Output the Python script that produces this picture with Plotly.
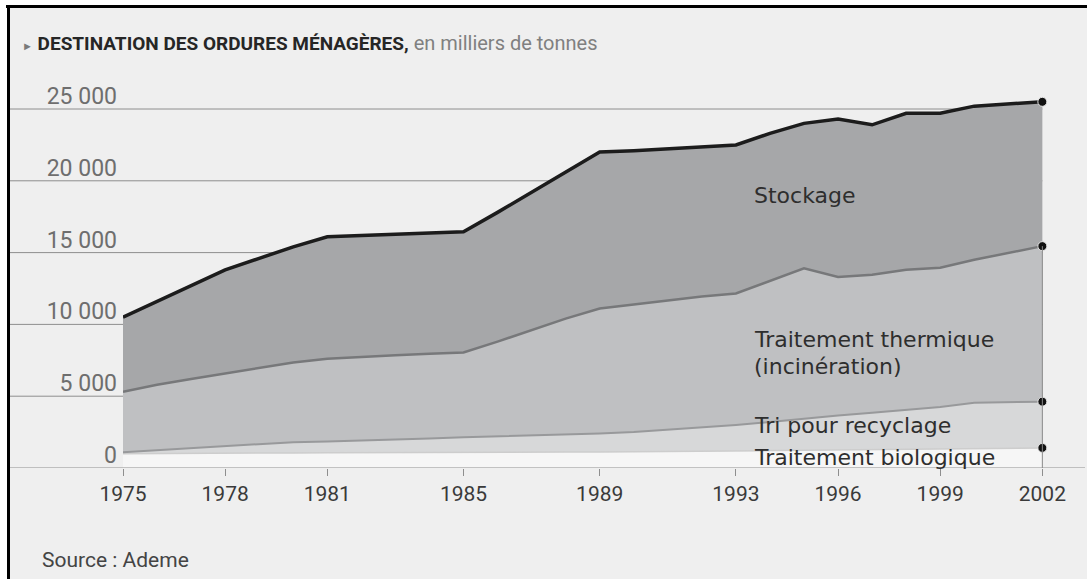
import numpy as np
import plotly.graph_objects as go

# --- data (milliers de tonnes) -------------------------------------------
years = list(range(1975, 2003))

biologique = [1000, 1000, 1020, 1030, 1040, 1050, 1060, 1060, 1070, 1080,
              1090, 1100, 1100, 1110, 1120, 1130, 1140, 1150, 1180, 1210,
              1240, 1270, 1300, 1320, 1340, 1360, 1380, 1400]

recyclage = [100, 250, 380, 520, 660, 750, 790, 840, 880, 970,
             1060, 1100, 1150, 1190, 1280, 1370, 1510, 1650, 1820, 1990,
             2210, 2380, 2550, 2730, 2910, 3190, 3220, 3220]

thermique = [4200, 4550, 4800, 5050, 5300, 5550, 5750, 5850, 5900, 5900,
             5900, 6600, 7350, 8100, 8700, 8900, 9050, 9150, 9150, 9800,
             10450, 9650, 9600, 9750, 9700, 9950, 10400, 10830]

stockage = [5200, 5800, 6500, 7200, 7600, 8050, 8500, 8450, 8450, 8400,
            8400, 9000, 9600, 10200, 10900, 10700, 10550, 10450, 10350, 10300,
            10100, 11000, 10450, 10900, 10750, 10700, 10350, 10050]

x_ticks = [1975, 1978, 1981, 1985, 1989, 1993, 1996, 1999, 2002]
y_ticks = [0, 5000, 10000, 15000, 20000, 25000]
y_tick_labels = ["0", "5 000", "10 000", "15 000", "20 000", "25 000"]

# --- geometry ----------------------------------------------------------------
W, H = 1087, 579
L, R, T, B = 123, 2, 90, 111
PX_PER_YEAR = 34.05
PLOT_W = W - L - R
PLOT_H = H - T - B
x_range = [1975, 1975 + PLOT_W / PX_PER_YEAR]
y_range = [0, 25000 * PLOT_H / 359]


def px_x(px):
    """pixel column -> paper x"""
    return (px - L) / PLOT_W


def px_y(py):
    """pixel row -> paper y"""
    return (H - B - py) / PLOT_H


BG = "#efefef"
GRID = "#8e8e8e"
SANS = "Roboto, sans-serif"
LABEL = "DejaVu Sans, Verdana, sans-serif"

series = [
    ("Traitement biologique", biologique, "#f6f6f6", "#cdcdcd", 1.5),
    ("Tri pour recyclage", recyclage, "#d7d8d9", "#98999b", 2),
    ("Traitement thermique", thermique, "#bfc0c2", "#77787a", 2.5),
    ("Stockage", stockage, "#a6a7a9", "#1c1c1c", 3.5),
]

fig = go.Figure()
for name, vals, fill, line_c, lw in series:
    fig.add_trace(go.Scatter(
        x=years, y=vals, name=name, mode="lines",
        stackgroup="dest", fillcolor=fill,
        line=dict(color=line_c, width=lw, shape="linear"),
        hoverinfo="skip", showlegend=False,
    ))

# cumulative end values in 2002 marked by dots
cum_end = np.cumsum([s[1][-1] for s in series])
fig.add_trace(go.Scatter(
    x=[years[-1]] * len(cum_end), y=cum_end, mode="markers",
    marker=dict(color="#111111", size=9, line=dict(color="#e6e6e6", width=1)),
    cliponaxis=False, hoverinfo="skip", showlegend=False,
))

shapes = []
# background frame: white outer strip, black left and top rules
shapes.append(dict(type="rect", xref="paper", yref="paper",
                   x0=px_x(0), x1=px_x(W), y0=px_y(0), y1=px_y(5),
                   fillcolor="white", line_width=0, layer="below"))
shapes.append(dict(type="rect", xref="paper", yref="paper",
                   x0=px_x(0), x1=px_x(7), y0=px_y(0), y1=px_y(H),
                   fillcolor="white", line_width=0, layer="below"))
shapes.append(dict(type="rect", xref="paper", yref="paper",
                   x0=px_x(6), x1=px_x(W), y0=px_y(5), y1=px_y(8),
                   fillcolor="black", line_width=0, layer="above"))
shapes.append(dict(type="rect", xref="paper", yref="paper",
                   x0=px_x(7), x1=px_x(10), y0=px_y(5), y1=px_y(H),
                   fillcolor="black", line_width=0, layer="above"))

# horizontal gridlines running from the frame to the last year
x_end = (years[-1] - x_range[0]) / (x_range[1] - x_range[0])
for v in y_ticks[1:]:
    shapes.append(dict(type="line", xref="paper", yref="y",
                       x0=px_x(10), x1=x_end, y0=v, y1=v,
                       line=dict(color=GRID, width=1), layer="below"))
# baseline
shapes.append(dict(type="line", xref="paper", yref="y",
                   x0=px_x(10), x1=1.0, y0=0, y1=0,
                   line=dict(color=GRID, width=1), layer="above"))
# vertical guide at the last year
shapes.append(dict(type="line", xref="x", yref="y",
                   x0=years[-1], x1=years[-1], y0=0,
                   y1=cum_end[2],
                   line=dict(color="#8a8a8a", width=1), layer="above"))

annotations = [
    dict(xref="paper", yref="paper", x=px_x(20), y=px_y(43),
         xanchor="left", yanchor="middle", showarrow=False,
         text=("<span style='color:#7a7a7a;font-size:11px'>►</span> "
               "<b>DESTINATION DES ORDURES MÉNAGÈRES,</b>"
               "<span style='color:#808080;font-size:20px'> en milliers de tonnes</span>"),
         font=dict(family=SANS, size=19, color="#262626")),
    dict(xref="paper", yref="paper", x=px_x(40), y=px_y(560),
         xanchor="left", yanchor="middle", showarrow=False,
         text="Source : Ademe",
         font=dict(family=SANS, size=21, color="#444444")),
]

# series labels
label_font = dict(family=LABEL, size=22, color="#2e2e2e")
for text, yv in [("Stockage", 19000),
                 ("Traitement thermique", 8950),
                 ("(incinération)", 7100),
                 ("Tri pour recyclage", 2950),
                 ("Traitement biologique", 700)]:
    annotations.append(dict(x=1993.47, y=yv, xref="x", yref="y",
                            xanchor="left", yanchor="middle", showarrow=False,
                            align="left", text=text, font=label_font))

fig.update_layout(
    width=W, height=H,
    margin=dict(l=L, r=R, t=T, b=B, pad=0),
    paper_bgcolor=BG, plot_bgcolor="rgba(0,0,0,0)",
    shapes=shapes, annotations=annotations,
    showlegend=False,
    xaxis=dict(range=x_range, tickvals=x_ticks, ticks="outside", ticklen=7,
               tickcolor=GRID, tickwidth=1, showgrid=False, zeroline=False,
               showline=False, tickfont=dict(family=SANS, size=21, color="#3a3a3a"),
               fixedrange=True),
    yaxis=dict(range=y_range, tickvals=y_ticks, ticktext=y_tick_labels,
               ticks="", showgrid=False, zeroline=False, showline=False,
               ticklabelshift=-13, ticklabelstandoff=5,
               tickfont=dict(family=SANS, size=23, color="#6e6e6e"),
               fixedrange=True),
)

fig.write_html("out.html")
